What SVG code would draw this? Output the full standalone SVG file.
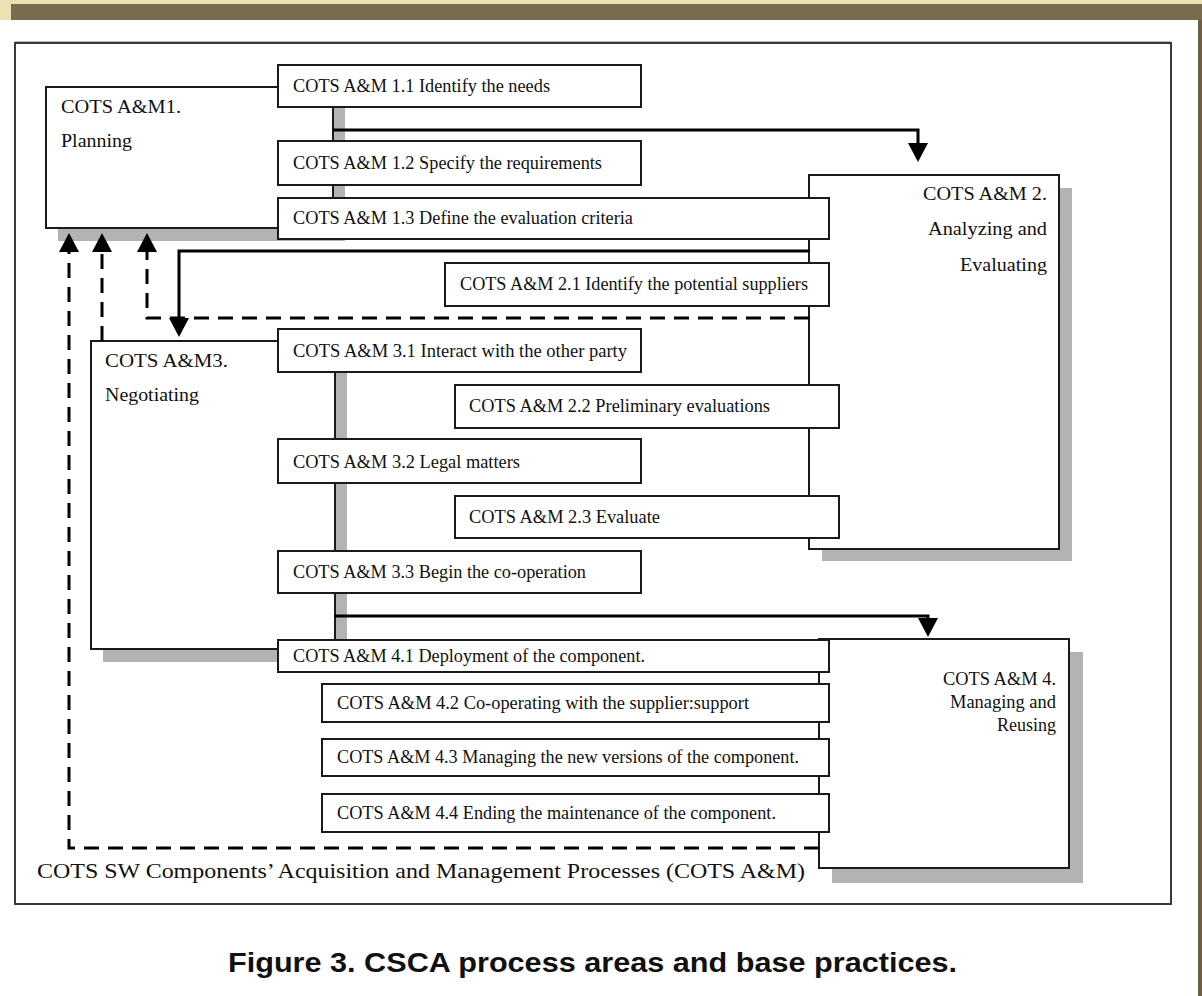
<svg xmlns="http://www.w3.org/2000/svg" width="1202" height="996" viewBox="0 0 1202 996">
  <style>
    .box { fill: #ffffff; stroke: #1a1a1a; stroke-width: 2; }
    .shadow { fill: #b3b3b3; stroke: none; }
    .lbl { font-family: "Liberation Serif", "Times New Roman", serif; font-size: 18px; fill: #111111; }
    .ttl { font-family: "Liberation Serif", "Times New Roman", serif; font-size: 18px; fill: #111111; }
    .flow { fill: none; stroke: #000000; stroke-width: 3; stroke-linejoin: miter; }
    .back { fill: none; stroke: #000000; stroke-width: 3; stroke-dasharray: 15 9; }
  </style>
  <defs>
    <marker id="head" markerUnits="userSpaceOnUse" markerWidth="19" markerHeight="20" viewBox="0 0 19 20" refX="0" refY="10" orient="auto">
      <path d="M0,0 L19,10 L0,20 z" fill="#000000"/>
    </marker>
  </defs>

  <!-- page background and header band -->
  <rect x="0" y="0" width="1202" height="996" fill="#ffffff"/>
  <rect x="0" y="0" width="1202" height="4" fill="#e8e2b4"/>
  <rect x="0" y="0" width="11" height="20" fill="#e8e2b4"/>
  <rect x="11" y="4" width="1191" height="16" fill="#7a6a4f"/>
  <rect x="1198" y="20" width="4" height="976" fill="#6e5f45"/>

  <!-- figure frame -->
  <line x1="15" y1="41.5" x2="1171" y2="41.5" stroke="#b8b8b8" stroke-width="1"/>
  <rect x="15" y="43" width="1156" height="861" fill="none" stroke="#3a3a3a" stroke-width="2"/>

  <!-- drop shadows of the four process areas -->
  <rect class="shadow" x="58" y="99" width="287" height="142"/>
  <rect class="shadow" x="822" y="188" width="250" height="373"/>
  <rect class="shadow" x="103" y="353" width="244" height="309"/>
  <rect class="shadow" x="832" y="652" width="251" height="231"/>

  <!-- process area 1 -->
  <g id="pa1">
    <rect class="box" x="46" y="87" width="287" height="141"/>
    <text class="ttl" x="61" y="113" textLength="120" lengthAdjust="spacingAndGlyphs">COTS A&amp;M1.</text>
    <text class="ttl" x="61" y="147" textLength="71" lengthAdjust="spacingAndGlyphs">Planning</text>
  </g>

  <!-- process area 2 -->
  <g id="pa2">
    <rect class="box" x="809" y="175" width="250" height="374"/>
    <text class="ttl" x="1047" y="200" text-anchor="end" textLength="124" lengthAdjust="spacingAndGlyphs">COTS A&amp;M 2.</text>
    <text class="ttl" x="1047" y="235" text-anchor="end" textLength="119" lengthAdjust="spacingAndGlyphs">Analyzing and</text>
    <text class="ttl" x="1047" y="271" text-anchor="end" textLength="87" lengthAdjust="spacingAndGlyphs">Evaluating</text>
  </g>

  <!-- process area 3 -->
  <g id="pa3">
    <rect class="box" x="91" y="341" width="244" height="308"/>
    <text class="ttl" x="105" y="367" textLength="123" lengthAdjust="spacingAndGlyphs">COTS A&amp;M3.</text>
    <text class="ttl" x="105" y="401" textLength="94" lengthAdjust="spacingAndGlyphs">Negotiating</text>
  </g>

  <!-- process area 4 -->
  <g id="pa4">
    <rect class="box" x="819" y="639" width="250" height="229"/>
    <text class="ttl" x="1056" y="685" text-anchor="end" textLength="113" lengthAdjust="spacingAndGlyphs">COTS A&amp;M 4.</text>
    <text class="ttl" x="1056" y="708" text-anchor="end" textLength="106" lengthAdjust="spacingAndGlyphs">Managing and</text>
    <text class="ttl" x="1056" y="731" text-anchor="end" textLength="59" lengthAdjust="spacingAndGlyphs">Reusing</text>
  </g>

  <!-- connectors between process areas -->
  <g id="connectors">
    <path class="flow" d="M333,130 H918 V143" marker-end="url(#head)"/>
    <path class="flow" stroke-width="2.5" d="M809,251 H179 V318" marker-end="url(#head)"/>
    <path class="flow" d="M334,616 H928 V618" marker-end="url(#head)"/>
    <path class="back" d="M809,318 H147 V252" marker-end="url(#head)"/>
    <path class="back" d="M102,341 V252" marker-end="url(#head)"/>
    <path class="back" d="M819,848 H69 V252" marker-end="url(#head)"/>
  </g>

  <!-- base practices -->
  <g id="bp11">
    <rect class="box" x="278" y="65" width="363" height="42"/>
    <text class="lbl" x="293" y="92" textLength="257" lengthAdjust="spacingAndGlyphs">COTS A&amp;M 1.1 Identify the needs</text>
  </g>
  <g id="bp12">
    <rect class="box" x="278" y="141" width="363" height="44"/>
    <text class="lbl" x="293" y="169" textLength="309" lengthAdjust="spacingAndGlyphs">COTS A&amp;M 1.2 Specify the requirements</text>
  </g>
  <g id="bp13">
    <rect class="box" x="278" y="198" width="551" height="41"/>
    <text class="lbl" x="293" y="224" textLength="340" lengthAdjust="spacingAndGlyphs">COTS A&amp;M 1.3 Define the evaluation criteria</text>
  </g>
  <g id="bp21">
    <rect class="box" x="445" y="263" width="384" height="43"/>
    <text class="lbl" x="460" y="290" textLength="348" lengthAdjust="spacingAndGlyphs">COTS A&amp;M 2.1 Identify the potential suppliers</text>
  </g>
  <g id="bp31">
    <rect class="box" x="278" y="329" width="363" height="43"/>
    <text class="lbl" x="293" y="357" textLength="334" lengthAdjust="spacingAndGlyphs">COTS A&amp;M 3.1 Interact with the other party</text>
  </g>
  <g id="bp22">
    <rect class="box" x="455" y="385" width="384" height="43"/>
    <text class="lbl" x="469" y="412" textLength="301" lengthAdjust="spacingAndGlyphs">COTS A&amp;M 2.2 Preliminary evaluations</text>
  </g>
  <g id="bp32">
    <rect class="box" x="278" y="439" width="363" height="44"/>
    <text class="lbl" x="293" y="468" textLength="227" lengthAdjust="spacingAndGlyphs">COTS A&amp;M 3.2 Legal matters</text>
  </g>
  <g id="bp23">
    <rect class="box" x="455" y="496" width="384" height="42"/>
    <text class="lbl" x="469" y="523" textLength="191" lengthAdjust="spacingAndGlyphs">COTS A&amp;M 2.3 Evaluate</text>
  </g>
  <g id="bp33">
    <rect class="box" x="278" y="551" width="363" height="42"/>
    <text class="lbl" x="293" y="578" textLength="293" lengthAdjust="spacingAndGlyphs">COTS A&amp;M 3.3 Begin the co-operation</text>
  </g>
  <g id="bp41">
    <rect class="box" x="278" y="640" width="551" height="32"/>
    <text class="lbl" x="293" y="662" textLength="352" lengthAdjust="spacingAndGlyphs">COTS A&amp;M 4.1 Deployment of the component.</text>
  </g>
  <g id="bp42">
    <rect class="box" x="322" y="684" width="507" height="38"/>
    <text class="lbl" x="337" y="709" textLength="412" lengthAdjust="spacingAndGlyphs">COTS A&amp;M 4.2 Co-operating with the supplier:support</text>
  </g>
  <g id="bp43">
    <rect class="box" x="322" y="739" width="507" height="37"/>
    <text class="lbl" x="337" y="763" textLength="462" lengthAdjust="spacingAndGlyphs">COTS A&amp;M 4.3 Managing the new versions of the component.</text>
  </g>
  <g id="bp44">
    <rect class="box" x="322" y="794" width="507" height="38"/>
    <text class="lbl" x="337" y="819" textLength="439" lengthAdjust="spacingAndGlyphs">COTS A&amp;M 4.4 Ending the maintenance of the component.</text>
  </g>

  <!-- process family label and caption -->
  <text x="37" y="878" font-family="'Liberation Serif', 'Times New Roman', serif" font-size="22" fill="#111111" textLength="768" lengthAdjust="spacingAndGlyphs">COTS SW Components’ Acquisition and Management Processes (COTS A&amp;M)</text>
  <text x="228" y="972" font-family="'Liberation Sans', Arial, sans-serif" font-size="27" font-weight="bold" fill="#111111" textLength="729" lengthAdjust="spacingAndGlyphs">Figure 3. CSCA process areas and base practices.</text>
</svg>
